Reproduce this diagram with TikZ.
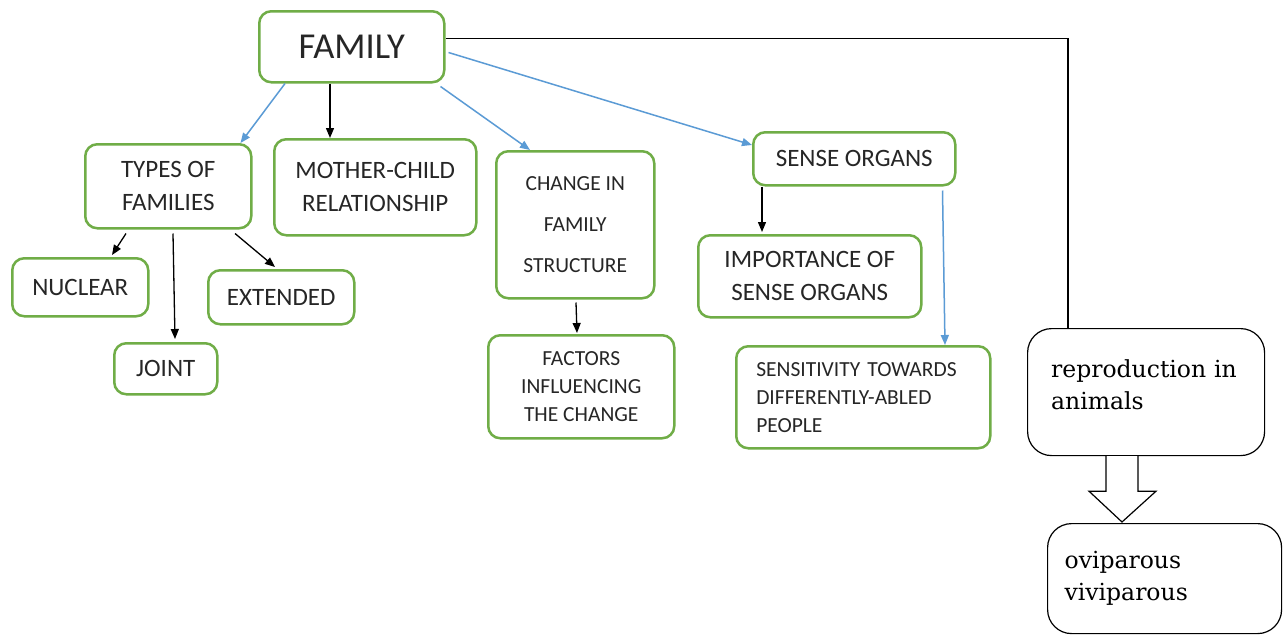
\documentclass[tikz,border=0pt]{standalone}
\usepackage{fontspec}
\setmainfont{Carlito}
\newfontfamily\serifrm{DejaVu Serif}
\usetikzlibrary{arrows.meta,calc}
\definecolor{boxgreen}{HTML}{70AD47}
\definecolor{linkblue}{HTML}{5B9BD5}
\tikzset{
  gbox/.style={draw=boxgreen, line width=2.5pt, rounded corners=12pt, fill=white,
    align=center, inner sep=0pt, anchor=north west, text=black!85},
  bigtxt/.style={font=\fontsize{25}{33}\selectfont},
  smalltxt/.style={font=\fontsize{21.5}{28}\selectfont},
  rbox/.style={draw=black, line width=1.2pt, rounded corners=24pt, fill=white,
    align=left, inner sep=0pt, anchor=north west, font=\serifrm\fontsize{23.5}{32}\selectfont},
  blk/.style={draw=black, line width=1.3pt, -{Triangle[length=10pt,width=8pt]}},
  blu/.style={draw=linkblue, line width=1.5pt, -{Triangle[length=10pt,width=8pt]}},
}
\begin{document}
\begin{tikzpicture}[x=1pt,y=-1pt]
\useasboundingbox (0,0) rectangle (1283,635);
\fill[white] (0,0) rectangle (1283,635);

% nodes
\node[gbox, minimum width=185, minimum height=71, font=\fontsize{36.5}{40}\selectfont] (fam) at (258,10) {FAMILY};
\node[gbox, bigtxt, minimum width=166, minimum height=84] (types) at (84,143) {TYPES OF\\FAMILIES};
\node[gbox, bigtxt, minimum width=202, minimum height=96] (mother) at (273,138) {MOTHER-CHILD\\RELATIONSHIP};
\node[gbox, font=\fontsize{21.5}{41}\selectfont, minimum width=158, minimum height=147] (change) at (495,150) {CHANGE IN\\FAMILY\\STRUCTURE};
\node[gbox, bigtxt, minimum width=202, minimum height=53] (sense) at (752,131) {SENSE ORGANS};
\node[gbox, bigtxt, minimum width=136, minimum height=58] (nuclear) at (11,257) {NUCLEAR};
\node[gbox, bigtxt, minimum width=103, minimum height=51] (joint) at (113,342) {JOINT};
\node[gbox, bigtxt, minimum width=146, minimum height=54] (extended) at (207,269) {EXTENDED};
\node[gbox, smalltxt, minimum width=186, minimum height=103] (factors) at (487,334) {FACTORS\\INFLUENCING\\THE CHANGE};
\node[gbox, bigtxt, minimum width=223, minimum height=82] (importance) at (697,234) {IMPORTANCE OF\\SENSE ORGANS};
\node[gbox, smalltxt, align=left, text width=214, minimum width=254, minimum height=102] (sensitivity) at (735,345) {SENSITIVITY TOWARDS\\DIFFERENTLY-ABLED\\PEOPLE};
\node[rbox, text width=190, text depth=48pt, minimum width=237, minimum height=127] (repro) at (1027,328) {reproduction in\\animals};
\node[rbox, text width=200, minimum width=234, minimum height=110] (ovi) at (1047,523) {oviparous\\viviparous};

% connectors
\draw[black, line width=1.2pt] ($(fam.south east)+(0,-45)$) -| ($(repro.north west)+(41,0)$);
\draw[blu] ($(fam.south west)+(27,0)$) -- ($(types.north east)+(-12,0)$);
\draw[blk] ($(fam.south west)+(72,0)$) -- ($(mother.north west)+(57,0)$);
\draw[blu] ($(fam.south east)+(-5,3)$) -- ($(change.north west)+(35,0)$);
\draw[blu] ($(fam.south east)+(3,-31)$) -- ($(sense.north west)+(0,14)$);
\draw[blk] ($(sense.south west)+(10,0)$) -- ($(importance.north west)+(65,-2)$);
\draw[blu] ($(sense.south east)+(-14,4)$) -- ($(sensitivity.north west)+(210,0)$);
\draw[blk] ($(types.south west)+(42,4)$) -- ($(nuclear.north west)+(101,-2)$);
\draw[blk] ($(types.south west)+(89,4)$) -- ($(joint.north west)+(62,-3)$);
\draw[blk] ($(types.south west)+(151,4)$) -- ($(extended.north west)+(68,-2)$);
\draw[blk] ($(change.south west)+(81,3)$) -- ($(factors.north west)+(90,-1)$);

% block arrow
\draw[black, line width=1.2pt, fill=white]
  ($(repro.south west)+(79,0)$) -- ++(0,35) -- ++(-17,0) -- ($(ovi.north west)+(75,-1)$)
  -- ($(repro.south west)+(129,35)$) -- ++(-18,0) -- ($(repro.south west)+(111,0)$);
\end{tikzpicture}
\end{document}
